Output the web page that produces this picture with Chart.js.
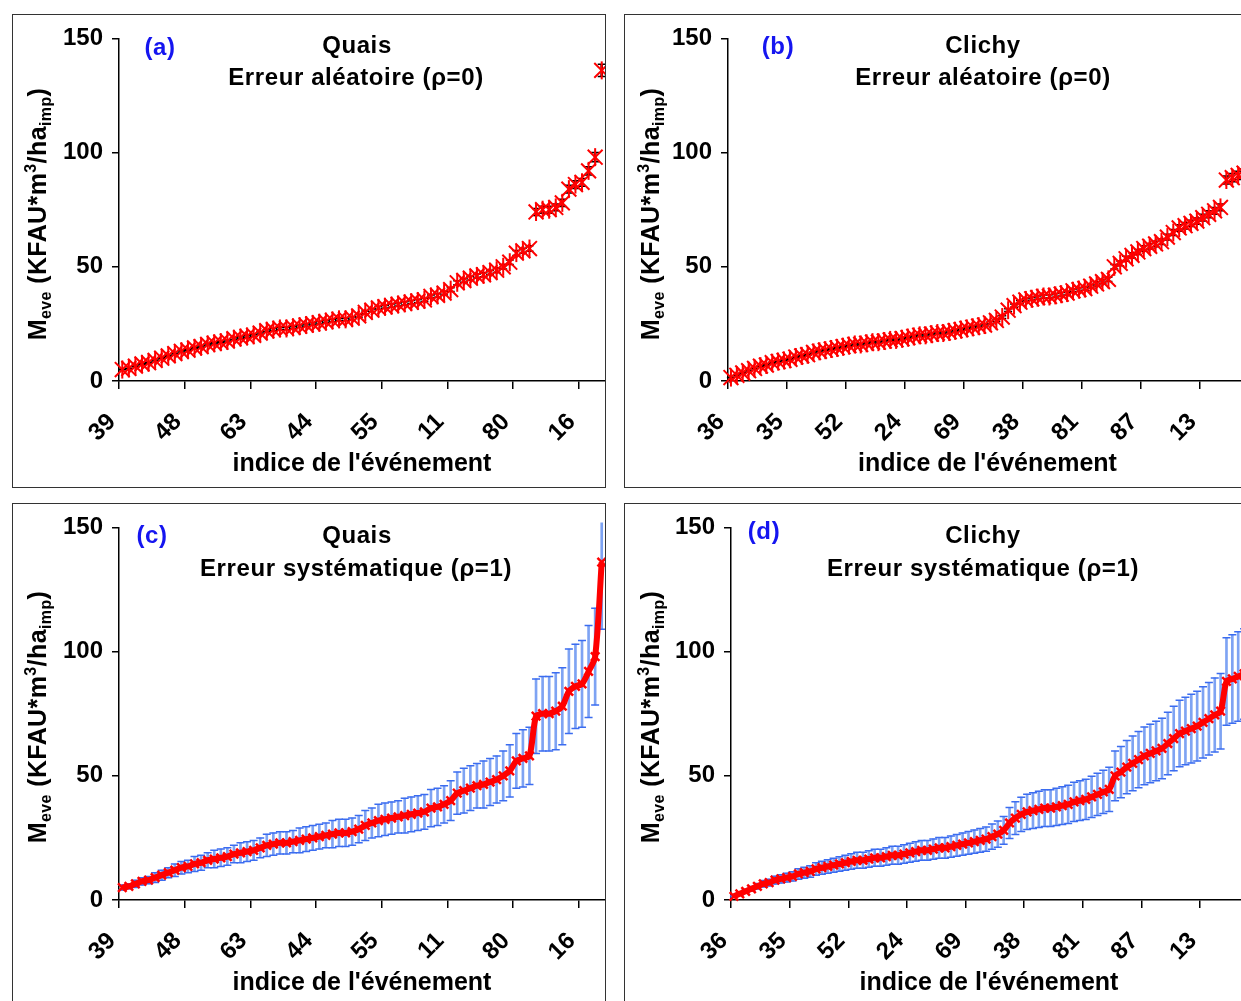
<!DOCTYPE html>
<html>
<head>
<meta charset="utf-8">
<script src="https://cdn.jsdelivr.net/npm/chart.js@4.4.1/dist/chart.umd.min.js"></script>
<style>
html, body { margin: 0; padding: 0; background: #fff; width: 1241px; height: 1001px; overflow: hidden; }
.box { position: absolute; border: 1px solid #333; box-sizing: border-box; }
.box canvas { position: absolute; left: 0; top: 0; }
.lbl { position: absolute; font: bold 24px "Liberation Sans", Arial, sans-serif; letter-spacing: 0.6px; color: #000; white-space: nowrap; transform: translate(-50%, -50%); }
.tag { color: #1515f0; }
.ytitle { position: absolute; font: bold 25px "Liberation Sans", Arial, sans-serif; letter-spacing: 0.4px; color: #000; white-space: nowrap; line-height: 30px; transform: translate(-50%, -50%) rotate(-90deg); }
.ytitle sub { font-size: 16px; vertical-align: -5px; line-height: 0; }
.ytitle sup { font-size: 16px; vertical-align: 10px; line-height: 0; }
</style>
</head>
<body>

<div class="box" style="left:12px; top:14px; width:594px; height:474px;"><canvas id="chartA" width="592" height="472"></canvas></div>
<div class="box" style="left:624px; top:14px; width:624px; height:474px;"><canvas id="chartB" width="622" height="472"></canvas></div>
<div class="box" style="left:12px; top:503px; width:594px; height:504px;"><canvas id="chartC" width="592" height="502"></canvas></div>
<div class="box" style="left:624px; top:503px; width:624px; height:504px;"><canvas id="chartD" width="622" height="502"></canvas></div>

<div class="lbl tag" style="left:160px; top:47px;">(a)</div>
<div class="lbl" style="left:357px; top:45px;">Quais</div>
<div class="lbl" style="left:356px; top:77px;">Erreur aléatoire (ρ=0)</div>

<div class="lbl tag" style="left:778px; top:46px;">(b)</div>
<div class="lbl" style="left:983px; top:45px;">Clichy</div>
<div class="lbl" style="left:983px; top:77px;">Erreur aléatoire (ρ=0)</div>

<div class="lbl tag" style="left:152px; top:535px;">(c)</div>
<div class="lbl" style="left:357px; top:535px;">Quais</div>
<div class="lbl" style="left:356px; top:568px;">Erreur systématique (ρ=1)</div>

<div class="lbl tag" style="left:764px; top:531px;">(d)</div>
<div class="lbl" style="left:983px; top:535px;">Clichy</div>
<div class="lbl" style="left:983px; top:568px;">Erreur systématique (ρ=1)</div>

<div class="ytitle" style="left:37px; top:214px;">M<sub>eve</sub> (KFAU*m<sup>3</sup>/ha<sub>imp</sub>)</div>
<div class="ytitle" style="left:650px; top:214px;">M<sub>eve</sub> (KFAU*m<sup>3</sup>/ha<sub>imp</sub>)</div>
<div class="ytitle" style="left:37px; top:717px;">M<sub>eve</sub> (KFAU*m<sup>3</sup>/ha<sub>imp</sub>)</div>
<div class="ytitle" style="left:650px; top:717px;">M<sub>eve</sub> (KFAU*m<sup>3</sup>/ha<sub>imp</sub>)</div>

<script>
// Quais: events sorted by increasing mass
var quaisValues = [5, 5.5, 6.5, 7.5, 8, 9, 10, 11, 12, 13,
    13.5, 14.5, 15, 16, 16.5, 17, 17.5, 18.5, 19, 19.5,
    20, 21, 22, 22.5, 23, 23, 23.5, 24, 24.5, 25,
    25.5, 26, 26.5, 27, 27, 27.5, 28.5, 30, 31, 32,
    32.5, 33, 33.5, 34, 34.5, 35, 35.5, 37, 37.5, 38.5,
    40, 43, 44, 45, 46, 46.5, 47.5, 48.5, 50, 52,
    56, 57, 58, 74, 75, 75, 76, 78, 84, 86,
    87, 92, 98, 136];
var quaisRandErr = [0.1, 0.1, 0.1, 0.2, 0.2, 0.2, 0.2, 0.2, 0.2, 0.3,
    0.3, 0.3, 0.3, 0.3, 0.3, 0.3, 0.4, 0.4, 0.4, 0.4,
    0.4, 0.4, 0.4, 0.5, 0.5, 0.5, 0.5, 0.5, 0.5, 0.5,
    0.5, 0.5, 0.5, 0.5, 0.5, 0.6, 0.6, 0.6, 0.6, 0.6,
    0.7, 0.7, 0.7, 0.7, 0.7, 0.7, 0.7, 0.7, 0.8, 0.8,
    0.8, 0.9, 0.9, 0.9, 0.9, 0.9, 1, 1, 1, 1,
    1.1, 1.1, 1.2, 1.5, 1.5, 1.5, 1.5, 1.6, 1.7, 1.7,
    1.7, 1.8, 2, 2.7];
var quaisSysErr = [1, 1, 1.5, 1.5, 1.5, 2, 2, 2, 2.5, 2.5,
    2.5, 3, 3, 3, 3.5, 3.5, 3.5, 3.5, 4, 4,
    4, 4, 4.5, 4.5, 4.5, 4.5, 4.5, 5, 5, 5,
    5, 5, 5.5, 5.5, 5.5, 5.5, 5.5, 6, 6, 6.5,
    6.5, 6.5, 6.5, 7, 7, 7, 7, 7.5, 7.5, 7.5,
    8, 8.5, 9, 9, 9, 9.5, 9.5, 9.5, 10, 10.5,
    11, 11.5, 11.5, 15, 15, 15, 15.5, 15.5, 17, 17,
    17.5, 18.5, 19.5, 27];
var quaisTickLabels = ['39', '48', '63', '44', '55', '11', '80', '16'];

// Clichy
var clichyValues = [1.5, 2.5, 3.5, 4.5, 5.5, 6.5, 7, 8, 8.5, 9,
    9.5, 10.5, 11, 11.5, 12.5, 13, 13.5, 14, 14.5, 15,
    15.5, 16, 16, 16.5, 17, 17, 17.5, 18, 18, 18.5,
    19, 19.5, 20, 20, 20.5, 21, 21, 21.5, 22, 22.5,
    23, 23.5, 24, 24.5, 25.5, 26.5, 28, 31, 33, 34.5,
    35.5, 36, 36.5, 37, 37, 37.5, 38, 38.5, 39.5, 40,
    40.5, 41.5, 42.5, 43.5, 44.5, 50, 51.5, 53.5, 55, 56.5,
    58, 59, 60, 61, 63, 65, 67, 68, 69, 70,
    71.5, 73, 74.5, 76, 88, 89, 90, 91];
var clichyRandErr = [0.1, 0.1, 0.1, 0.1, 0.1, 0.1, 0.2, 0.2, 0.2, 0.2,
    0.2, 0.2, 0.2, 0.2, 0.3, 0.3, 0.3, 0.3, 0.3, 0.3,
    0.3, 0.3, 0.3, 0.3, 0.4, 0.4, 0.4, 0.4, 0.4, 0.4,
    0.4, 0.4, 0.4, 0.4, 0.4, 0.4, 0.4, 0.5, 0.5, 0.5,
    0.5, 0.5, 0.5, 0.5, 0.5, 0.5, 0.6, 0.6, 0.7, 0.7,
    0.7, 0.7, 0.7, 0.8, 0.8, 0.8, 0.8, 0.8, 0.8, 0.8,
    0.8, 0.8, 0.9, 0.9, 0.9, 1, 1, 1.1, 1.1, 1.1,
    1.2, 1.2, 1.2, 1.2, 1.3, 1.3, 1.4, 1.4, 1.4, 1.4,
    1.5, 1.5, 1.5, 1.5, 1.8, 1.8, 1.8, 1.8];
var clichySysErr = [0.3, 0.5, 0.7, 0.9, 1.1, 1.3, 1.4, 1.6, 1.7, 1.8,
    1.9, 2.1, 2.2, 2.3, 2.5, 2.6, 2.7, 2.8, 2.9, 3,
    3.1, 3.2, 3.2, 3.3, 3.4, 3.4, 3.5, 3.6, 3.6, 3.7,
    3.8, 3.9, 4, 4, 4.1, 4.2, 4.2, 4.3, 4.4, 4.5,
    4.6, 4.7, 4.8, 4.9, 5.1, 5.3, 5.6, 6.2, 6.6, 6.9,
    7.1, 7.2, 7.3, 7.4, 7.4, 7.5, 7.6, 7.7, 7.9, 8,
    8.1, 8.3, 8.5, 8.7, 8.9, 10, 10.3, 10.7, 11, 11.3,
    11.6, 11.8, 12, 12.2, 12.6, 13, 13.4, 13.6, 13.8, 14,
    14.3, 14.6, 14.9, 15.2, 17.6, 17.8, 18, 18.2];
var clichyTickLabels = ['36', '35', '52', '24', '69', '38', '81', '87', '13'];

var yTicks = { min: 0, max: 150, step: 50 };
var xTitle = "indice de l'événement";

Chart.defaults.font.family = '"Liberation Sans", Arial, sans-serif';
Chart.defaults.font.weight = 'bold';
Chart.defaults.color = '#000';

// one panel: values ranked 1..n, each event centred in its category slot
function makePanel(id, values, errs, tickLabels, systematic, yAxisWidth) {
    var n = values.length;
    var pts = [], bars = [], caps = [];
    for (var i = 0; i < n; i++) {
        var x = i + 0.5;
        pts.push({ x: x, y: values[i] });
        bars.push({ x: x, y: [values[i] - errs[i], values[i] + errs[i]] });
        caps.push({ x: x, y: values[i] - errs[i] });
        caps.push({ x: x, y: values[i] + errs[i] });
    }

    var errColor = systematic ? '#7ea3f3' : '#000';
    var capColor = systematic ? '#3b6cf0' : '#000';
    // error bars may run a little above the frame, as in the original
    var errClip = { top: 5, left: false, right: false, bottom: false };

    var datasets = [];
    if (systematic) {
        datasets.push({
            type: 'line', data: pts, order: 0, clip: false,
            borderColor: '#ff0000', borderWidth: 6, tension: 0.3,
            pointStyle: 'crossRot', pointRadius: 6, pointBorderWidth: 2.5,
            pointBorderColor: '#ff0000', pointBackgroundColor: '#ff0000'
        });
    } else {
        datasets.push({
            type: 'line', data: pts, order: 0, clip: false, showLine: false,
            pointStyle: 'crossRot', pointRadius: 10.5, pointBorderWidth: 2,
            pointBorderColor: '#ff0000', pointBackgroundColor: '#ff0000'
        });
        datasets.push({
            type: 'line', data: pts, order: 0, clip: false, showLine: false,
            pointStyle: 'line', pointRotation: 90, pointRadius: 9, pointBorderWidth: 2,
            pointBorderColor: '#ff0000'
        });
    }
    datasets.push({
        type: 'line', data: caps, order: 1, clip: errClip, showLine: false,
        pointStyle: 'line', pointRadius: 4, pointBorderWidth: 1.5,
        pointBorderColor: capColor
    });
    datasets.push({
        type: 'bar', data: bars, order: 2, clip: errClip,
        backgroundColor: errColor, barThickness: 2, grouped: false
    });

    new Chart(document.getElementById(id), {
        type: 'line',
        data: { datasets: datasets },
        options: {
            responsive: false, animation: false, events: [],
            layout: { autoPadding: false, padding: { top: 21, left: 0, right: 0, bottom: 0 } },
            plugins: { legend: { display: false }, tooltip: { enabled: false } },
            scales: {
                x: {
                    type: 'linear', min: 0, max: n, offset: false,
                    afterFit: function (s) { s.height = 106; s.paddingLeft = 0; s.paddingRight = 0; },
                    grid: { drawOnChartArea: false, offset: false, tickLength: 8, color: '#000', lineWidth: 1.5 },
                    border: { color: '#000', width: 1.5 },
                    ticks: {
                        stepSize: 10, includeBounds: false, autoSkip: false,
                        maxRotation: 45, minRotation: 45, padding: 19, labelOffset: -7,
                        font: { size: 24, weight: 'bold' }, color: '#000',
                        callback: function (v) { return tickLabels[Math.round(v / 10)]; }
                    },
                    title: {
                        display: true, text: xTitle, color: '#000',
                        font: { size: 25, weight: 'bold' }, padding: { top: 0, bottom: 8 }
                    }
                },
                y: {
                    min: yTicks.min, max: yTicks.max,
                    afterFit: function (s) { s.width = yAxisWidth; },
                    grid: { drawOnChartArea: false, tickLength: 7, color: '#000', lineWidth: 1.5 },
                    border: { color: '#000', width: 1.5 },
                    ticks: { stepSize: yTicks.step, padding: 9, font: { size: 24, weight: 'bold' }, color: '#000' }
                }
            }
        }
    });
}

makePanel('chartA', quaisValues, quaisRandErr, quaisTickLabels, false, 106);
makePanel('chartB', clichyValues, clichyRandErr, clichyTickLabels, false, 103);
makePanel('chartC', quaisValues, quaisSysErr, quaisTickLabels, true, 106);
makePanel('chartD', clichyValues, clichySysErr, clichyTickLabels, true, 106);
</script>
</body>
</html>
